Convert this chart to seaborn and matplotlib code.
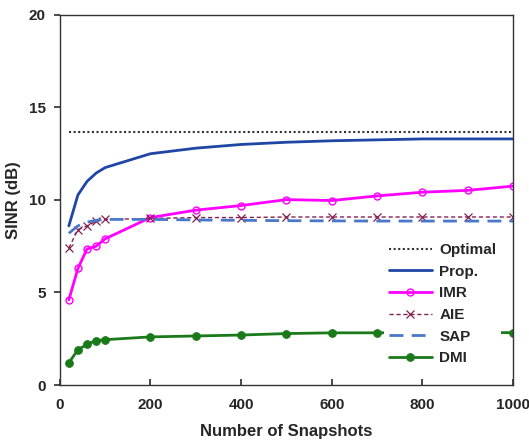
import numpy as np
import pandas as pd
import matplotlib
matplotlib.use("Agg")
import matplotlib.pyplot as plt
import seaborn as sns

snapshots = [20, 40, 60, 80, 100, 200, 300, 400, 500, 600, 700, 800, 900, 1000]
optimal = [13.7] * len(snapshots)
prop = [8.6, 10.27, 11.0, 11.45, 11.75, 12.5, 12.8, 13.0, 13.12, 13.2, 13.25, 13.3, 13.3, 13.3]
imr = [4.6, 6.3, 7.35, 7.5, 7.9, 9.05, 9.45, 9.7, 10.02, 9.97, 10.22, 10.42, 10.52, 10.75]
aie = [7.4, 8.4, 8.6, 8.85, 8.95, 9.0, 9.05, 9.05, 9.08, 9.08, 9.08, 9.08, 9.08, 9.08]
sap = [8.2, 8.6, 8.8, 8.9, 8.95, 8.95, 8.92, 8.9, 8.88, 8.87, 8.86, 8.86, 8.86, 8.86]
dmi = [1.2, 1.9, 2.2, 2.4, 2.45, 2.6, 2.65, 2.7, 2.78, 2.82, 2.82, 2.83, 2.83, 2.83]

sns.set_theme(style="white")
plt.rcParams['font.family'] = ['Liberation Sans', 'DejaVu Sans']
plt.rcParams['font.weight'] = 'bold'

fig = plt.figure(figsize=(5.29, 4.4), dpi=100)
ax = fig.add_axes([0.113, 0.125, 0.857, 0.841])

styles = [
    ("Optimal", optimal, dict(color="#333333", linestyle=(0, (1, 1.2)), linewidth=1.5)),
    ("Prop.", prop, dict(color="#1f45a5", linewidth=2.0)),
    ("IMR", imr, dict(color="#ff00ff", linewidth=2.0, marker="o", markersize=5,
                      markerfacecolor="none", markeredgecolor="#ff00ff", markeredgewidth=1.0)),
    ("AIE", aie, dict(color="#86204f", linewidth=1.0, linestyle=(0, (3, 2)), marker="x",
                      markersize=6, markeredgewidth=0.9, markeredgecolor="#86204f")),
    ("SAP", sap, dict(color="#4a78c8", linewidth=2.0, linestyle=(0, (5, 3)))),
    ("DMI", dmi, dict(color="#1a7a1a", linewidth=2.0, marker="o", markersize=5.5,
                      markeredgecolor="#1a7a1a", markerfacecolor="#1a7a1a")),
]
for name, vals, kw in styles:
    sns.lineplot(x=snapshots, y=vals, ax=ax, label=name, **kw)

ax.set_xlim(0, 1000)
ax.set_ylim(0, 20)
ax.set_xticks([0, 200, 400, 600, 800, 1000])
ax.set_yticks([0, 5, 10, 15, 20])
ax.tick_params(axis='x', direction='in', length=4, labelsize=11, pad=9, color='#333333', bottom=True)
ax.tick_params(axis='y', direction='out', length=4, labelsize=11, pad=6, color='#333333', left=True)
for lab in ax.get_xticklabels() + ax.get_yticklabels():
    lab.set_fontweight('bold')
for s in ax.spines.values():
    s.set_color('#333333')
    s.set_linewidth(1.0)
ax.set_xlabel("Number of Snapshots", fontsize=12, fontweight='bold', labelpad=9)
ax.set_ylabel("SINR (dB)", fontsize=12, fontweight='bold', labelpad=6)

leg = ax.legend(loc='lower right', bbox_to_anchor=(0.99, 0.02), frameon=True,
                fontsize=11, handlelength=2.8, handletextpad=0.5, labelspacing=0.5,
                borderpad=0.3, framealpha=1.0)
leg.get_frame().set_edgecolor('none')
leg.get_frame().set_facecolor('white')
for t in leg.get_texts():
    t.set_fontweight('bold')

fig.savefig("out.png", dpi=100)
